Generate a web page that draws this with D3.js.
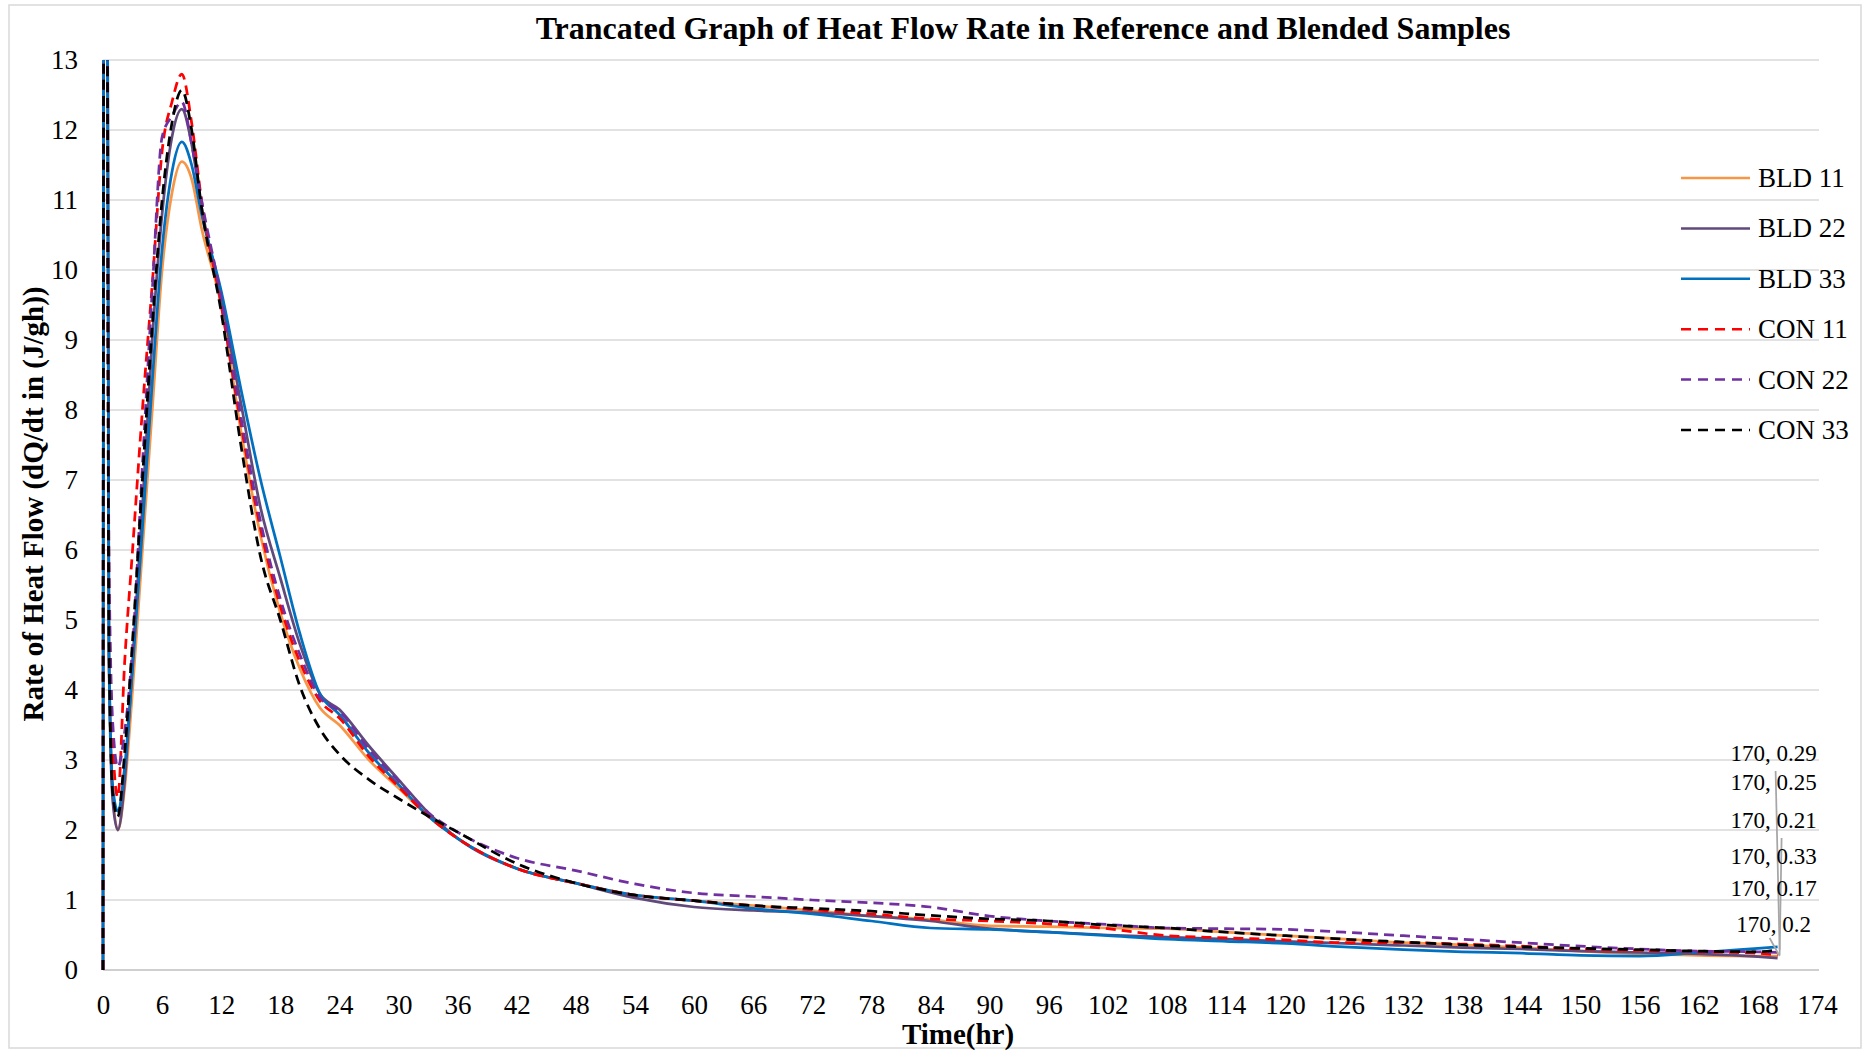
<!DOCTYPE html>
<html>
<head>
<meta charset="utf-8">
<script src="https://cdn.jsdelivr.net/npm/d3@7"></script>
<style>
    body { margin: 0; background: #fff; }
    svg text { font-family: "Liberation Serif", "Times New Roman", serif; fill: #000; }
    .gridline { stroke: #d9d9d9; stroke-width: 1.5; }
    .axisLine { stroke: #bfbfbf; stroke-width: 1.5; }
    .tickText { font-size: 27px; }
    .axisTitle { font-size: 29px; font-weight: bold; }
    .chartTitle { font-size: 32px; font-weight: bold; }
    .legendText { font-size: 27px; }
    .pointLabel { font-size: 23px; }
    .leader { stroke: #a6a6a6; stroke-width: 1.75; fill: none; }
</style>
</head>
<body>
<div id="chart"></div>
<script>

// time axis (hr)
let hours = [0, 0.2, 0.6, 1, 1.5, 2.2, 3, 4, 5, 6,
    7, 8, 9, 10, 12, 14, 16, 18, 20, 22,
    24, 27, 30, 33, 36, 42, 48, 54, 60, 66,
    72, 78, 84, 90, 96, 102, 108, 114, 120, 126,
    132, 138, 144, 150, 156, 162, 168, 170];

let bld11 = [0, 30, 4.5, 2.5, 2.0, 2.6, 4.0, 6.0, 8.0, 10.0,
    11.1, 11.55, 11.3, 10.6, 9.5, 7.7, 6.2, 5.1, 4.3, 3.75,
    3.5, 3.0, 2.6, 2.2, 1.88, 1.45, 1.24, 1.07, 0.99, 0.92,
    0.85, 0.77, 0.72, 0.63, 0.62, 0.6, 0.59, 0.54, 0.49, 0.44,
    0.39, 0.36, 0.32, 0.27, 0.23, 0.21, 0.2, 0.2];

let bld22 = [0, 30, 4.5, 2.4, 2.0, 2.7, 4.4, 6.6, 9.0, 10.8,
    11.9, 12.3, 11.8, 10.9, 9.6, 8.1, 6.6, 5.6, 4.65, 3.95,
    3.72, 3.2, 2.72, 2.25, 1.88, 1.45, 1.24, 1.03, 0.9, 0.85,
    0.82, 0.77, 0.7, 0.59, 0.54, 0.5, 0.47, 0.44, 0.41, 0.38,
    0.35, 0.32, 0.3, 0.27, 0.25, 0.23, 0.19, 0.17];

let bld33 = [0, 30, 4.6, 2.6, 2.27, 2.9, 4.3, 6.3, 8.4, 10.3,
    11.4, 11.83, 11.5, 10.8, 9.7, 8.3, 7.0, 5.9, 4.8, 3.95,
    3.65, 3.1, 2.65, 2.2, 1.88, 1.45, 1.24, 1.07, 0.99, 0.88,
    0.8, 0.7, 0.6, 0.58, 0.54, 0.49, 0.44, 0.41, 0.38, 0.33,
    0.29, 0.26, 0.24, 0.21, 0.2, 0.25, 0.31, 0.33];

let con11 = [0, 30, 5.5, 3.2, 2.47, 4.4, 6.0, 8.0, 9.8, 11.7,
    12.4, 12.8, 12.1, 11.0, 9.5, 7.8, 6.3, 5.2, 4.4, 3.85,
    3.6, 3.05, 2.62, 2.2, 1.88, 1.45, 1.24, 1.07, 0.99, 0.92,
    0.86, 0.8, 0.73, 0.7, 0.66, 0.59, 0.49, 0.46, 0.43, 0.39,
    0.39, 0.37, 0.34, 0.3, 0.28, 0.26, 0.24, 0.21];

let con22 = [0, 30, 6.0, 3.5, 2.9, 3.4, 4.6, 7.2, 9.7, 11.9,
    12.2, 12.4, 11.8, 11.0, 9.6, 7.9, 6.4, 5.3, 4.5, 3.9,
    3.7, 3.15, 2.7, 2.25, 1.97, 1.6, 1.42, 1.23, 1.1, 1.05,
    1.0, 0.96, 0.9, 0.77, 0.7, 0.65, 0.6, 0.59, 0.58, 0.54,
    0.49, 0.44, 0.39, 0.34, 0.3, 0.27, 0.26, 0.25];

let con33 = [0, 30, 4.8, 2.5, 2.19, 3.1, 4.7, 7.0, 9.2, 11.0,
    12.1, 12.57, 12.0, 10.9, 9.4, 7.5, 5.9, 5.0, 4.05, 3.45,
    3.08, 2.72, 2.45, 2.2, 1.97, 1.52, 1.24, 1.07, 0.99, 0.92,
    0.88, 0.84, 0.78, 0.73, 0.7, 0.64, 0.6, 0.54, 0.49, 0.44,
    0.4, 0.36, 0.33, 0.31, 0.29, 0.27, 0.26, 0.29];

let seriesNames = ["BLD 11", "BLD 22", "BLD 33", "CON 11", "CON 22", "CON 33"];
let seriesValues = [bld11, bld22, bld33, con11, con22, con33];
let seriesColors = ["#f79646", "#604a7b", "#0070c0", "#ff0000", "#7030a0", "#000000"];
let seriesDashed = [false, false, false, true, true, true];

let xTicks = d3.range(0, 175, 6);
let yTicks = d3.range(0, 14, 1);

// data labels at the last point, pixel offset above the x axis
let labelOffsets = [-46, -82, -114, -150, -188, -217];

class HeatFlowChart {

    constructor() {
        this.width = 1864;
        this.height = 1051;
        this.margin = {top: 60, right: 47, bottom: 81, left: 103};

        this.svg = d3.select("#chart").append("svg")
            .attr("width", this.width)
            .attr("height", this.height);

        this.xScale = d3.scaleLinear()
            .domain([0, 174])
            .range([this.margin.left, this.width - this.margin.right]);
        this.yScale = d3.scaleLinear()
            .domain([0, 13])
            .range([this.height - this.margin.bottom, this.margin.top]);
    }

    update() {
        let x = this.xScale;
        let y = this.yScale;
        let svg = this.svg;

        // outer chart border
        svg.append("rect")
            .attr("x", 9).attr("y", 5)
            .attr("width", this.width - 12).attr("height", this.height - 8)
            .attr("fill", "none").attr("stroke", "#d9d9d9").attr("stroke-width", 1.5);

        svg.append("text")
            .attr("class", "chartTitle")
            .attr("x", 1023).attr("y", 39)
            .attr("text-anchor", "middle")
            .text("Trancated Graph of Heat Flow Rate in Reference and Blended Samples");

        // horizontal gridlines
        svg.append("g").selectAll("line")
            .data(yTicks.filter(d => d > 0))
            .enter().append("line")
            .attr("class", "gridline")
            .attr("x1", x(0)).attr("x2", x(174) + 2)
            .attr("y1", d => y(d)).attr("y2", d => y(d));

        svg.append("line")
            .attr("class", "axisLine")
            .attr("x1", x(0)).attr("x2", x(174) + 2)
            .attr("y1", y(0)).attr("y2", y(0));

        // y tick labels
        let yAxis = d3.axisLeft(y).tickValues(yTicks).tickSize(0).tickPadding(25);
        let gy = svg.append("g").attr("transform", "translate(" + x(0) + ",0)").call(yAxis);
        gy.select(".domain").remove();
        gy.selectAll("text").attr("class", "tickText").attr("font-size", null).attr("font-family", null);

        // x tick labels
        let xAxis = d3.axisBottom(x).tickValues(xTicks).tickSize(0).tickPadding(25);
        let gx = svg.append("g").attr("transform", "translate(0," + y(0) + ")").call(xAxis);
        gx.select(".domain").remove();
        gx.selectAll("text").attr("class", "tickText").attr("font-size", null).attr("font-family", null);

        svg.append("text")
            .attr("class", "axisTitle")
            .attr("x", 958).attr("y", 1044)
            .attr("text-anchor", "middle")
            .text("Time(hr)");

        svg.append("text")
            .attr("class", "axisTitle")
            .attr("transform", "translate(43,504) rotate(-90)")
            .attr("text-anchor", "middle")
            .text("Rate of Heat Flow (dQ/dt in (J/gh))");

        // clip the truncated spike at the top of the plot
        svg.append("clipPath").attr("id", "plotClip")
            .append("rect")
            .attr("x", x(0) - 3).attr("y", y(13))
            .attr("width", x(174) - x(0) + 6).attr("height", y(0) - y(13) + 2);

        let line = d3.line()
            .x(d => x(d[0]))
            .y(d => y(d[1]))
            .curve(d3.curveMonotoneX);

        let lineGroup = svg.append("g").attr("clip-path", "url(#plotClip)");
        lineGroup.selectAll("path")
            .data(seriesValues)
            .enter().append("path")
            .attr("d", vals => line(hours.map((h, i) => [h, vals[i]])))
            .attr("fill", "none")
            .attr("stroke", (d, i) => seriesColors[i])
            .attr("stroke-width", 2.75)
            .attr("stroke-dasharray", (d, i) => seriesDashed[i] ? "10,6" : null);

        // data labels at the last hour
        let last = hours.length - 1;
        let endX = x(hours[last]);

        // leader lines from the moved labels down to the points
        let leaders = [[5, 0, 18], [3, 6, 18], [0, -6, 14]];
        svg.append("g").selectAll("line")
            .data(leaders)
            .enter().append("line")
            .attr("class", "leader")
            .attr("x1", d => endX + d[1] - 2)
            .attr("y1", d => y(0) + labelOffsets[d[0]] + d[2])
            .attr("x2", endX + 2)
            .attr("y2", d => y(seriesValues[d[0]][last]));

        svg.append("g").selectAll("text")
            .data(seriesValues)
            .enter().append("text")
            .attr("class", "pointLabel")
            .attr("x", endX - 4)
            .attr("y", (d, i) => y(0) + labelOffsets[i] + 8)
            .attr("text-anchor", "middle")
            .text(d => hours[last] + ", " + d[last]);

        // legend
        let legend = svg.append("g").selectAll("g")
            .data(seriesNames)
            .enter().append("g")
            .attr("transform", (d, i) => "translate(1681," + (178 + i * 50.4) + ")");
        legend.append("line")
            .attr("x1", 0).attr("x2", 69)
            .attr("stroke", (d, i) => seriesColors[i])
            .attr("stroke-width", 2.5)
            .attr("stroke-dasharray", (d, i) => seriesDashed[i] ? "10,7" : null);
        legend.append("text")
            .attr("class", "legendText")
            .attr("x", 77).attr("y", 9)
            .text(d => d);
    }
}

let chart = new HeatFlowChart();
chart.update();
</script>
</body>
</html>
